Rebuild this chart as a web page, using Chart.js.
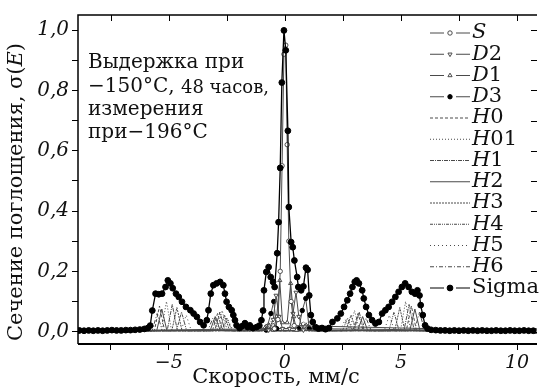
<!DOCTYPE html>
<html><head><meta charset="utf-8">
<script src="https://cdn.jsdelivr.net/npm/chart.js@4"></script>
<style>html,body{margin:0;padding:0;background:#fff}canvas{display:block}</style>
</head><body>
<canvas id="c" width="542" height="390"></canvas>
<script>
// ---- tick values ----
const xTickVals = [-7.5,-5,-2.5,0,2.5,5,7.5,10];
const yTickVals = [0,0.1,0.2,0.3,0.4,0.5,0.6,0.7,0.8,0.9,1.0];
const xTickLabels = {"-5":"\u22125","0":"0","5":"5","10":"10"};
const yTickLabels = {"0":"0,0","0.2":"0,2","0.4":"0,4","0.6":"0,6","0.8":"0,8","1":"1,0"};

// ---- Sigma (total) ----
const sigX = [-8.85,-8.65,-8.45,-8.25,-8.05,-7.85,-7.65,-7.45,-7.25,-7.05,-6.85,-6.65,-6.45,-6.25,-6.05,-5.9,-5.8,-5.71,
  -5.57,-5.43,-5.29,-5.14,-5.04,-4.93,-4.83,-4.69,-4.57,-4.43,-4.26,-4.07,-3.93,-3.79,-3.65,-3.5,
  -3.36,-3.29,-3.19,-3.08,-2.94,-2.79,-2.65,-2.58,-2.51,-2.41,-2.29,-2.22,-2.15,-2.08,
  -1.95,-1.84,-1.72,-1.6,-1.51,-1.38,-1.22,-1.1,-1.01,-0.94,-0.9,-0.8,-0.7,-0.61,-0.51,-0.44,
  -0.33,-0.27,-0.2,-0.13,-0.04,0.04,0.13,0.17,0.27,0.34,0.41,0.53,0.58,0.7,0.8,0.91,0.98,1.05,1.12,1.2,
  1.32,1.45,1.6,1.75,1.9,2.05,2.26,2.41,2.55,2.69,2.81,2.91,3.01,3.09,3.19,3.33,3.4,3.5,3.62,3.76,3.9,
  4.05,4.19,4.33,4.47,4.62,4.76,4.9,5.04,5.18,5.33,5.47,5.61,5.71,5.8,5.85,5.94,6.04,
  6.15,6.3,6.5,6.7,6.9,7.1,7.3,7.5,7.7,7.9,8.1,8.3,8.5,8.7,8.9,9.1,9.3,9.5,9.7,9.9,10.1,10.3,10.5,10.7];
const sigY = [0.004,0.003,0.004,0.003,0.004,0.003,0.004,0.005,0.004,0.004,0.005,0.005,0.006,0.007,0.009,0.012,0.02,0.07,
  0.126,0.124,0.126,0.148,0.17,0.16,0.144,0.126,0.115,0.099,0.082,0.071,0.06,0.049,0.032,0.021,
  0.038,0.071,0.126,0.154,0.16,0.165,0.154,0.126,0.099,0.082,0.071,0.055,0.038,0.021,
  0.012,0.018,0.028,0.015,0.021,0.012,0.015,0.02,0.038,0.07,0.137,0.198,0.214,0.181,0.165,0.148,
  0.26,0.363,0.543,0.826,0.999,0.933,0.666,0.413,0.297,0.28,0.236,0.181,0.148,0.137,0.15,0.212,0.205,0.12,0.055,0.032,
  0.015,0.01,0.012,0.008,0.012,0.032,0.044,0.06,0.082,0.104,0.126,0.148,0.165,0.17,0.16,0.137,0.11,0.082,0.055,0.038,0.027,
  0.032,0.06,0.071,0.082,0.099,0.115,0.132,0.148,0.16,0.148,0.132,0.126,0.137,0.12,0.088,0.055,0.021,
  0.01,0.006,0.005,0.004,0.004,0.003,0.004,0.003,0.004,0.003,0.004,0.003,0.004,0.003,0.003,0.004,0.003,0.003,0.004,0.003,0.003,0.004,0.003,0.003];

// ---- doublets / singlet ----
const sX  = [-8.9,-0.45,-0.3,-0.2,-0.12,-0.04,0.04,0.1,0.17,0.27,0.4,10.8];
const sY  = [0.002,0.01,0.04,0.2,0.55,0.92,0.95,0.62,0.3,0.1,0.02,0.002];
const d2X = [-8.9,-0.7,-0.5,-0.38,-0.25,-0.1,0.2,0.35,0.48,0.6,0.8,10.8];
const d2Y = [0.002,0.005,0.04,0.12,0.05,0.01,0.01,0.06,0.13,0.05,0.005,0.002];
const d1X = [-8.9,-0.5,-0.35,-0.22,-0.1,0.1,0.25,0.38,0.5,10.8];
const d1Y = [0.002,0.005,0.05,0.17,0.03,0.03,0.16,0.05,0.005,0.002];
const d3X = [-8.9,-0.8,-0.6,-0.48,-0.35,0.6,0.75,0.9,1.05,10.8];
const d3Y = [0.002,0.005,0.06,0.1,0.01,0.01,0.07,0.11,0.01,0.002];

// ---- sextets ----
const h0X  = [-8.9,-5.62,-5.4,-5.18,-3.12,-2.9,-2.68,-0.97,-0.75,-0.53,0.73,0.95,1.17,2.93,3.15,3.37,5.23,5.45,5.67,10.8];
const h0Y  = [0.002,0.003,0.085,0.003,0.003,0.06,0.003,0.003,0.03,0.003,0.003,0.03,0.003,0.003,0.06,0.003,0.003,0.085,0.003,0.002];
const h01X = [-8.9,-5.32,-5.1,-4.88,-2.92,-2.7,-2.48,-0.82,-0.6,-0.38,0.58,0.8,1.02,2.78,3.0,3.22,4.98,5.2,5.42,10.8];
const h01Y = [0.002,0.003,0.1,0.003,0.003,0.07,0.003,0.003,0.035,0.003,0.003,0.035,0.003,0.003,0.07,0.003,0.003,0.1,0.003,0.002];
const h1X  = [-8.9,-5.07,-4.85,-4.63,-3.02,-2.8,-2.58,-0.92,-0.7,-0.48,0.68,0.9,1.12,2.98,3.2,3.42,5.13,5.35,5.57,10.8];
const h1Y  = [0.002,0.003,0.09,0.003,0.003,0.065,0.003,0.003,0.03,0.003,0.003,0.03,0.003,0.003,0.065,0.003,0.003,0.09,0.003,0.002];
const h2X  = [-8.9,-5.52,-5.3,-5.08,-3.22,-3.0,-2.78,-1.02,-0.8,-0.58,0.78,1.0,1.22,3.13,3.35,3.57,5.38,5.6,5.82,10.8];
const h2Y  = [0.002,0.003,0.075,0.003,0.003,0.05,0.003,0.003,0.025,0.003,0.003,0.025,0.003,0.003,0.05,0.003,0.003,0.075,0.003,0.002];
const h3X  = [-8.9,-4.87,-4.65,-4.43,-2.82,-2.6,-2.38,-0.72,-0.5,-0.28,0.48,0.7,0.92,2.63,2.85,3.07,4.73,4.95,5.17,10.8];
const h3Y  = [0.002,0.003,0.08,0.003,0.003,0.055,0.003,0.003,0.028,0.003,0.003,0.028,0.003,0.003,0.055,0.003,0.003,0.08,0.003,0.002];
const h4X  = [-8.9,-4.67,-4.45,-4.23,-2.72,-2.5,-2.28,-0.67,-0.45,-0.23,0.43,0.65,0.87,2.48,2.7,2.92,4.48,4.7,4.92,10.8];
const h4Y  = [0.002,0.003,0.065,0.003,0.003,0.045,0.003,0.003,0.022,0.003,0.003,0.022,0.003,0.003,0.045,0.003,0.003,0.065,0.003,0.002];
const h5X  = [-8.9,-4.47,-4.25,-4.03,-2.67,-2.45,-2.23,-0.62,-0.4,-0.18,0.38,0.6,0.82,2.38,2.6,2.82,4.28,4.5,4.72,10.8];
const h5Y  = [0.002,0.003,0.055,0.003,0.003,0.04,0.003,0.003,0.02,0.003,0.003,0.02,0.003,0.003,0.04,0.003,0.003,0.055,0.003,0.002];
const h6X  = [-8.9,-5.72,-5.5,-5.28,-3.32,-3.1,-2.88,-1.07,-0.85,-0.63,0.83,1.05,1.27,3.28,3.5,3.72,5.58,5.8,6.02,10.8];
const h6Y  = [0.002,0.003,0.06,0.003,0.003,0.045,0.003,0.003,0.022,0.003,0.003,0.022,0.003,0.003,0.045,0.003,0.003,0.065,0.003,0.002];

const legendNames = ["S","D2","D1","D3","H0","H01","H1","H2","H3","H4","H5","H6","Sigma"];

const pts = (xs, ys) => xs.map((v, i) => ({x: v, y: ys[i]}));
const GRAY = '#4a4a4a';
function ds(label, xs, ys, opt) {
  return Object.assign({label, data: pts(xs, ys), showLine: true, borderColor: GRAY, borderWidth: 1,
    pointRadius: 0, pointBackgroundColor: '#fff', pointBorderColor: GRAY, pointBorderWidth: 1, order: 5}, opt);
}
const datasets = [
  ds("Sigma", sigX, sigY, {borderColor: '#000', borderWidth: 1.3, pointRadius: 2.9, pointBackgroundColor: '#000', pointBorderColor: '#000', order: 0}),
  ds("S",  sX,  sY,  {pointRadius: 2.2, pointStyle: 'circle', order: 1}),
  ds("D2", d2X, d2Y, {pointRadius: 2.4, pointStyle: 'triangle', pointRotation: 180, order: 2}),
  ds("D1", d1X, d1Y, {pointRadius: 2.4, pointStyle: 'triangle', order: 2}),
  ds("D3", d3X, d3Y, {pointRadius: 2.2, pointBackgroundColor: '#000', pointBorderColor: '#000', order: 2}),
  ds("H0", h0X, h0Y, {borderDash: [3, 2]}),
  ds("H01", h01X, h01Y, {borderDash: [1, 2]}),
  ds("H1", h1X, h1Y, {borderDash: [4, 1, 1, 1]}),
  ds("H2", h2X, h2Y, {}),
  ds("H3", h3X, h3Y, {borderDash: [2, 1]}),
  ds("H4", h4X, h4Y, {borderDash: [3, 1, 1, 1, 1, 1]}),
  ds("H5", h5X, h5Y, {borderDash: [1, 3]}),
  ds("H6", h6X, h6Y, {borderDash: [4, 2, 1, 2]})
];

const SERIF = '"DejaVu Serif", serif';
const deco = {
  id: 'deco',
  afterDraw(chart) {
    const {ctx, chartArea: a, scales: {x, y}} = chart;
    ctx.save();
    ctx.strokeStyle = '#000';
    ctx.lineWidth = 1.5;
    ctx.beginPath();
    ctx.moveTo(a.left, a.bottom); ctx.lineTo(a.left, a.top); ctx.lineTo(a.right, a.top);
    ctx.stroke();
    ctx.lineWidth = 2;
    ctx.beginPath(); ctx.moveTo(a.left, a.bottom); ctx.lineTo(a.right, a.bottom); ctx.stroke();
    ctx.lineWidth = 1;
    for (const v of xTickVals) {
      const px = Math.round(x.getPixelForValue(v)) + 0.5;
      ctx.beginPath(); ctx.moveTo(px, a.top); ctx.lineTo(px, a.top + 6); ctx.stroke();
    }
    for (const v of yTickVals) {
      const py = Math.round(y.getPixelForValue(v)) + 0.5;
      ctx.beginPath(); ctx.moveTo(a.right, py); ctx.lineTo(a.right - 6, py); ctx.stroke();
    }
    // annotation
    ctx.fillStyle = '#111';
    ctx.textBaseline = 'middle';
    ctx.textAlign = 'left';
    ctx.font = '20px ' + SERIF;
    ctx.fillText('Выдержка при', 88, 63);
    ctx.fillText('\u2212150°С, ', 88, 87);
    const w1 = ctx.measureText('\u2212150°С, ').width;
    ctx.font = '18px ' + SERIF;
    ctx.fillText('48 часов,', 88 + w1, 88);
    ctx.font = '20px ' + SERIF;
    ctx.fillText('измерения', 88, 110);
    ctx.fillText('при\u2212196°С', 88, 133);
    // legend
    const y0 = 33, dy = 21.25;
    legendNames.forEach((name, i) => {
      const d = datasets.find(q => q.label === name);
      const yy = y0 + i * dy;
      ctx.save();
      ctx.strokeStyle = d.borderColor;
      ctx.lineWidth = 1;
      ctx.setLineDash(d.borderDash || []);
      ctx.beginPath();
      if (d.pointRadius > 0) {
        ctx.moveTo(430, yy); ctx.lineTo(444, yy);
        ctx.moveTo(456, yy); ctx.lineTo(470, yy);
      } else {
        ctx.moveTo(430, yy); ctx.lineTo(470, yy);
      }
      ctx.stroke();
      ctx.setLineDash([]);
      if (d.pointRadius > 0) {
        ctx.fillStyle = d.pointBackgroundColor; ctx.strokeStyle = d.pointBorderColor;
        Chart.helpers.drawPoint(ctx, {pointStyle: d.pointStyle || 'circle', radius: d.pointRadius, rotation: d.pointRotation || 0, borderWidth: 1}, 450, yy);
      }
      ctx.fillStyle = '#111';
      ctx.textBaseline = 'middle';
      let xx = 472;
      if (name === 'Sigma') {
        ctx.font = '21px ' + SERIF;
        ctx.fillText(name, xx, yy);
      } else {
        ctx.font = 'italic 21px ' + SERIF;
        ctx.fillText(name[0], xx, yy);
        xx += ctx.measureText(name[0]).width;
        ctx.font = '21px ' + SERIF;
        ctx.fillText(name.slice(1), xx, yy);
      }
      ctx.restore();
    });
    // axis titles
    ctx.fillStyle = '#111';
    ctx.textBaseline = 'middle';
    ctx.font = '21px ' + SERIF;
    ctx.textAlign = 'center';
    ctx.fillText('Скорость, мм/с', 276, 378);
    ctx.save();
    ctx.translate(17, 192);
    ctx.rotate(-Math.PI / 2);
    const p1 = 'Сечение поглощения, σ(', p2 = 'E', p3 = ')';
    ctx.font = '21px ' + SERIF; const a1 = ctx.measureText(p1).width, a3 = ctx.measureText(p3).width;
    ctx.font = 'italic 21px ' + SERIF; const a2 = ctx.measureText(p2).width;
    let sx = -(a1 + a2 + a3) / 2;
    ctx.textAlign = 'left';
    ctx.font = '21px ' + SERIF; ctx.fillText(p1, sx, 0); sx += a1;
    ctx.font = 'italic 21px ' + SERIF; ctx.fillText(p2, sx, 0); sx += a2;
    ctx.font = '21px ' + SERIF; ctx.fillText(p3, sx, 0);
    ctx.restore();
    ctx.restore();
  }
};

new Chart(document.getElementById('c'), {
  type: 'scatter',
  data: {datasets},
  options: {
    responsive: false, animation: false, devicePixelRatio: 1,
    layout: {padding: {left: 0, top: 14, right: 0, bottom: 0}},
    plugins: {legend: {display: false}, tooltip: {enabled: false}},
    elements: {line: {tension: 0}},
    scales: {
      x: {
        type: 'linear', min: -8.91, max: 10.86,
        afterBuildTicks: s => { s.ticks = xTickVals.map(v => ({value: v})); },
        afterFit: s => { s.height = 46; },
        grid: {drawOnChartArea: false, drawTicks: true, tickLength: 6, color: '#000', lineWidth: 1},
        border: {display: false},
        ticks: {padding: 2, color: '#111', font: {family: SERIF, style: 'italic', size: 19},
          maxRotation: 0, autoSkip: false, callback: v => xTickLabels[String(v)] || ''}
      },
      y: {
        type: 'linear', min: -0.041, max: 1.05,
        afterBuildTicks: s => { s.ticks = yTickVals.map(v => ({value: v})); },
        afterFit: s => { s.width = 78; },
        grid: {drawOnChartArea: false, drawTicks: true, tickLength: 6, color: '#000', lineWidth: 1},
        border: {display: false},
        ticks: {padding: 3, color: '#111', font: {family: SERIF, style: 'italic', size: 20},
          autoSkip: false, callback: v => yTickLabels[String(Math.round(v * 10) / 10)] || ''}
      }
    }
  },
  plugins: [deco]
});
</script>
</body></html>
